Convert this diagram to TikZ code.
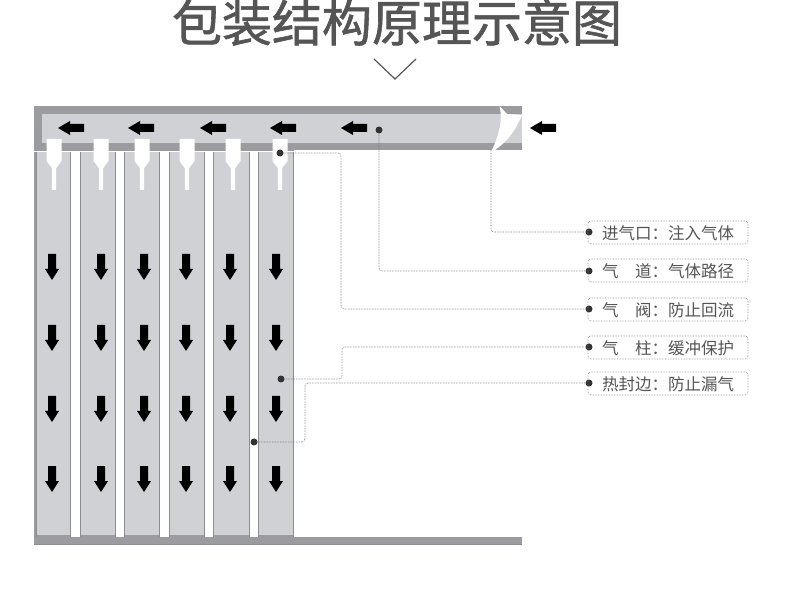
\documentclass[tikz,border=0pt]{standalone}
\usepackage{fontspec}
\setmainfont{Noto Sans CJK SC}
\newfontfamily\titlefont[FakeBold=1.2]{Noto Sans CJK SC}
\definecolor{framegray}{HTML}{9C9CA0}
\definecolor{edgegray}{HTML}{8E8E92}
\definecolor{padgray}{HTML}{D0D1D5}
\definecolor{inkgray}{HTML}{555555}
\tikzset{
  dotmark/.style={circle,fill=black!80,inner sep=0pt,minimum size=7pt},
  leader/.style={draw=black!60,densely dotted,line width=.6pt,rounded corners=3pt},
  tagbox/.style={draw=black!50,densely dotted,line width=.6pt,rounded corners=3pt,minimum width=160pt,minimum height=23pt,inner sep=0pt,text height=14.2pt,text depth=0pt,text=inkgray,font=\fontsize{16.5}{18}\selectfont},
}
\begin{document}
\begin{tikzpicture}[x=1pt,y=-1pt]
\useasboundingbox (0,0) rectangle (790,593);
\node[text=inkgray,font=\titlefont\fontsize{50}{54}\selectfont,text height=40pt,text depth=4pt,inner sep=0pt] (title) at (397,23.5) {包装结构原理示意图};
\draw[inkgray,line width=1.2pt] (374,59) -- (395,79) -- (416,59);
\fill[framegray] (34,106) rectangle (522,151);
\fill[framegray] (34,537) rectangle (522,544);
\draw[edgegray,line width=.8pt] (34,544) -- (522,544);
\fill[padgray] (42,114) rectangle (522,143);
\fill[white] (293.5,150.5) rectangle (522,152);
\foreach \xa/\xb in {36/70,80/115,124/159,169/204,213/249,258/293}{
  \fill[padgray] (\xa,152) rectangle (\xb,535);
  \fill[framegray] (\xa,535) rectangle (\xb,537);
  \draw[edgegray,line width=1pt] (\xa,152) -- (\xa,537) (\xb,152) -- (\xb,537);
}
\fill[framegray] (34,152) rectangle (36,537);
\fill[white] (499.5,106) -- (507,114) -- (522,115) .. controls (516,130) and (507,142) .. (495,150) -- (492,150) .. controls (499,135) and (503,120) .. (499.5,106) -- cycle;
\foreach \x in {54,101,142,187,233,280}{
  \fill[white,shift={(\x,0)}] (-7.5,139) -- (7.5,139) -- (7.5,161) -- (2.2,168) -- (2.2,190) -- (-2.2,190) -- (-2.2,168) -- (-7.5,161) -- cycle;
}
\foreach \x in {58,128,200,270,341,530}{
  \fill[black,shift={(\x,128)}] (0,0) -- (12,-7) -- (12,-4) -- (26,-4) -- (26,4) -- (12,4) -- (12,7) -- cycle;
}
\foreach \y in {254,325,396,466}{
  \foreach \x in {52,101,144,186,230,276}{
    \fill[black,shift={(\x,\y)}] (-4,0) -- (4,0) -- (4,15) -- (7,15) -- (0,26) -- (-7,15) -- (-4,15) -- cycle;
  }
}
\node[dotmark] (dchannel) at (379,130) {};
\node[dotmark] (dvalve) at (280,153) {};
\node[dotmark] (dcolumn) at (281,379) {};
\node[dotmark] (dseal) at (254,442) {};
\coordinate (dinlet) at (491,150);
\node[dotmark] (tinlet) at (589,232) {};
\node[dotmark] (tchannel) at (589,271) {};
\node[dotmark] (tvalve) at (589,309) {};
\node[dotmark] (tcolumn) at (589,347) {};
\node[dotmark] (tseal) at (589,383) {};
\coordinate (kvalve) at (341,153);
\coordinate (kcolumn) at (342,379);
\coordinate (kseal) at (305,442);
\draw[leader] (dinlet) |- (tinlet);
\draw[leader] (dchannel) |- (tchannel);
\draw[leader] (dvalve) -- (kvalve) |- (tvalve);
\draw[leader] (dcolumn) -- (kcolumn) |- (tcolumn);
\draw[leader] (dseal) -- (kseal) |- (tseal);
\node[tagbox] (binlet) at (668,232.5) {进气口：注入气体};
\node[tagbox] (bchannel) at (668,270.5) {气\hspace{1em}道：气体路径};
\node[tagbox] (bvalve) at (668,309.5) {气\hspace{1em}阀：防止回流};
\node[tagbox] (bcolumn) at (668,347.5) {气\hspace{1em}柱：缓冲保护};
\node[tagbox] (bseal) at (668,383.5) {热封边：防止漏气};
\end{tikzpicture}
\end{document}
